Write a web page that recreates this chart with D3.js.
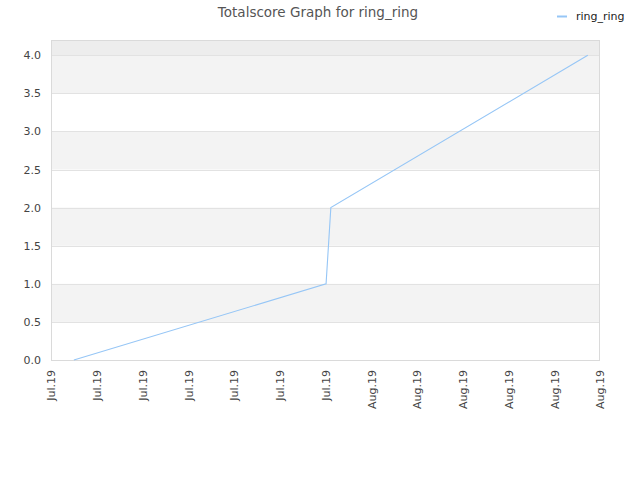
<!DOCTYPE html>
<html><head><meta charset="utf-8">
<script src="https://cdn.jsdelivr.net/npm/d3@7"></script>
<style>body{margin:0;background:#fff;} svg{display:block;font-family:"DejaVu Sans",sans-serif;}</style>
</head><body>
<svg id="c" width="640" height="480"></svg>
<script>
const seriesName = "ring_ring";
const dates = ["2019-07-17T06:00", "2019-07-31T00:45", "2019-07-31T07:00", "2019-08-14T08:00"];
const values = [0, 1, 2, 4];
const yTicks = [0, 0.5, 1.0, 1.5, 2.0, 2.5, 3.0, 3.5, 4.0];
const xTickDates = ["2019-07-16T00:00","2019-07-18T12:00","2019-07-21T00:00","2019-07-23T12:00","2019-07-26T00:00","2019-07-28T12:00","2019-07-31T00:00","2019-08-02T12:00","2019-08-05T00:00","2019-08-07T12:00","2019-08-10T00:00","2019-08-12T12:00","2019-08-15T00:00"];
const xTickLabels = ["Jul.19","Jul.19","Jul.19","Jul.19","Jul.19","Jul.19","Jul.19","Aug.19","Aug.19","Aug.19","Aug.19","Aug.19","Aug.19"];

const parse = d3.isoParse;
const svg = d3.select("#c");
const L = 51, R = 600, T = 40, B = 360;
const x = d3.scaleTime().domain([parse(xTickDates[0]), parse(xTickDates[xTickDates.length-1])]).range([L, R]);
const y = d3.scaleLinear().domain([0, 4.2]).range([B, T]);

// bands
const g = svg.append("g");
for (let i = 0; i < yTicks.length - 1; i++) {
  if (i % 2 === 1) {
    g.append("rect").attr("x", L).attr("width", R - L)
      .attr("y", y(yTicks[i+1])).attr("height", y(yTicks[i]) - y(yTicks[i+1]))
      .attr("fill", "#f3f3f3");
  }
}
g.append("rect").attr("x", L).attr("width", R - L).attr("y", T)
  .attr("height", y(yTicks[yTicks.length-1]) - T).attr("fill", "#ededed");

// grid lines
svg.append("g").selectAll("line").data(yTicks.slice(1)).join("line")
  .attr("x1", L).attr("x2", R).attr("y1", d => Math.round(y(d)) + 0.5).attr("y2", d => Math.round(y(d)) + 0.5)
  .attr("stroke", "#e2e2e2");

// border
svg.append("rect").attr("x", L + 0.5).attr("y", T + 0.5).attr("width", R - L - 1).attr("height", B - T)
  .attr("fill", "none").attr("stroke", "#dadada");

// y axis labels
const yAxis = d3.axisLeft(y).tickValues(yTicks).tickFormat(d3.format(".1f")).tickSize(0).tickPadding(10);
const ya = svg.append("g").attr("transform", `translate(${L},0)`).call(yAxis);
ya.select(".domain").remove();
ya.selectAll("text").attr("font-size", 11).attr("fill", "#444").attr("font-family", "DejaVu Sans, sans-serif");

// x axis labels
const xAxis = d3.axisBottom(x).tickValues(xTickDates.map(parse)).tickFormat((d, i) => xTickLabels[i]).tickSize(0);
const xa = svg.append("g").attr("transform", `translate(0,${B})`).call(xAxis);
xa.select(".domain").remove();
xa.selectAll("text").attr("font-size", 11).attr("fill", "#444").attr("font-family", "DejaVu Sans, sans-serif")
  .attr("transform", "rotate(-90)").attr("text-anchor", "end").attr("dy", "0.35em").attr("x", -10).attr("y", 0);

// line
const pts = dates.map((d, i) => [parse(d), values[i]]);
svg.append("path").datum(pts)
  .attr("d", d3.line().x(d => x(d[0])).y(d => y(d[1])))
  .attr("fill", "none").attr("stroke", "#96c6f6").attr("stroke-width", 1.1);

// title
svg.append("text").attr("x", 318).attr("y", 17).attr("text-anchor", "middle")
  .attr("font-size", 13.5).attr("fill", "#555").text("Totalscore Graph for " + seriesName);

// legend
svg.append("line").attr("x1", 557).attr("x2", 567).attr("y1", 16.5).attr("y2", 16.5)
  .attr("stroke", "#96c6f6").attr("stroke-width", 2);
svg.append("text").attr("x", 576).attr("y", 20).attr("font-size", 11).attr("fill", "#222").text(seriesName);
</script>
</body></html>
